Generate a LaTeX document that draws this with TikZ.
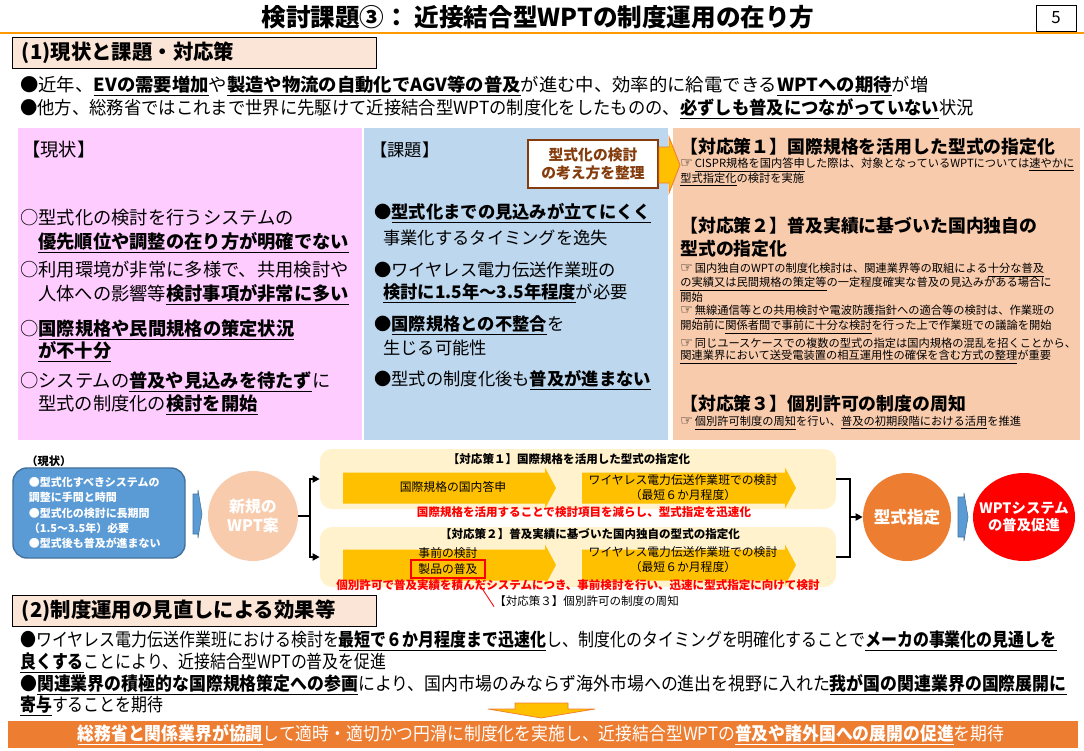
\documentclass[tikz,border=0pt]{standalone}
\usepackage{fontspec}
\setmainfont{Noto Sans CJK JP}
\newfontfamily\symfont{DejaVu Sans}
\usepackage{graphicx}
\usetikzlibrary{positioning}
\usetikzlibrary{shapes.geometric}
\usetikzlibrary{arrows.meta}

\definecolor{lineorange}{RGB}{255,153,0}
\definecolor{hdrfill}{RGB}{251,229,214}
\definecolor{nowpink}{RGB}{255,204,255}
\definecolor{issueblue}{RGB}{189,215,238}
\definecolor{solpeach}{RGB}{248,203,173}
\definecolor{kbrown}{RGB}{132,60,12}
\definecolor{gold}{RGB}{255,192,0}
\definecolor{lanefill}{RGB}{255,242,204}
\definecolor{boxblue}{RGB}{91,155,213}
\definecolor{boxblueline}{RGB}{65,113,156}
\definecolor{accent}{RGB}{237,125,49}

\def\fsz#1#2{\fontsize{#1}{#2}\selectfont}
\def\ubf#1{\underline{\textbf{#1}}}
\def\uln#1{\underline{#1}}
\def\hand{{\symfont\fontsize{10}{10}\selectfont ☞}\,}
\def\goldarr#1#2#3{\fill[gold] (#1,#3-15.5) -- (#2-11,#3-15.5) -- (#2-11,#3-20.5) -- (#2,#3) -- (#2-11,#3+20.5) -- (#2-11,#3+15.5) -- (#1,#3+15.5) -- cycle;}

\begin{document}
\begin{tikzpicture}[x=0.025cm, y=-0.025cm,
txt/.style={anchor=west, inner sep=0pt},
big/.style={txt, font=\fsz{12.8}{15}},
col/.style={txt, font=\fsz{13}{15}},
mid/.style={txt, font=\fsz{12.3}{14}},
head/.style={txt, font=\fsz{12.7}{15}\bfseries},
small/.style={txt, font=\fsz{8}{10}},
hdr/.style={draw, fill=hdrfill, line width=0.6pt, inner xsep=0.25cm, text width=8.6cm, minimum height=0.72cm, align=left, font=\fsz{14.5}{16}\bfseries},
lane/.style={fill=lanefill, rounded corners=0.3cm, minimum width=12.9cm, minimum height=1.5cm},
lanetitle/.style={inner sep=0pt, font=\fsz{8.2}{10}\bfseries},
flow/.style={inner sep=0pt, align=center, font=\fsz{8.4}{10.7}},
redtxt/.style={inner sep=0pt, text=red, font=\fsz{8.2}{10}\bfseries},
bubble/.style={circle, inner sep=0pt, text=white, align=center},
brk/.style={line width=2pt},
chev/.style={fill=boxblue, draw=boxblueline, line width=0.4pt}
]

\useasboundingbox (0,0) rectangle (1084,750);

% title
\node[font=\fsz{17.5}{20}\bfseries] (title) at (538,17) {検討課題③： 近接結合型WPTの制度運用の在り方};
\node[draw, line width=0.6pt, minimum width=1cm, minimum height=0.65cm, font=\fsz{12}{14}] (page) at (1056,18) {5};
\draw[lineorange, line width=2pt] (0,33) -- (1084,33);

% (1)
\node[hdr] (sec1) at (194,53) {(1)現状と課題・対応策};
\node[big] (top1) at (20,86) {\resizebox{646pt}{\height}{●近年、\ubf{EVの需要増加}や\ubf{製造や物流の自動化でAGV等の普及}が進む中、効率的に給電できる\ubf{WPTへの期待}が増}};
\node[big] (top2) at (20,109) {\resizebox{678pt}{\height}{●他方、総務省ではこれまで世界に先駆けて近接結合型WPTの制度化をしたものの、\ubf{必ずしも普及につながっていない}状況}};

% panels
\fill[nowpink] (18,128) rectangle (362,440);
\fill[issueblue] (364,128) rectangle (668,440);
\fill[solpeach] (673,128) rectangle (1080,440);

% now
\node[col] (now0) at (22,150) {【現状】};
\node[col] (now1) at (20,218) {○型式化の検討を行うシステムの};
\node[col] (now1b) at (38,243) {\ubf{優先順位や調整の在り方が明確でない}};
\node[col] (now2) at (20,270) {○利用環境が非常に多様で、共用検討や};
\node[col] (now2b) at (38,295) {人体への影響等\ubf{検討事項が非常に多い}};
\node[col] (now3) at (20,330) {○\ubf{国際規格や民間規格の策定状況}};
\node[col] (now3b) at (38,352) {\ubf{が不十分}};
\node[col] (now4) at (20,382) {○システムの\ubf{普及や見込みを待たず}に};
\node[col] (now4b) at (38,405) {型式の制度化の\ubf{検討を開始}};

% issues
\node[mid] (iss0) at (370,150) {【課題】};
\node[mid] (iss1) at (374,213) {●\ubf{型式化までの見込みが立てにくく}};
\node[mid] (iss1b) at (383,238) {事業化するタイミングを逸失};
\node[mid] (iss2) at (374,270) {●ワイヤレス電力伝送作業班の};
\node[mid] (iss2b) at (383,293) {\ubf{検討に1.5年～3.5年程度}が必要};
\node[mid] (iss3) at (374,325) {●\ubf{国際規格との不整合}を};
\node[mid] (iss3b) at (383,348) {生じる可能性};
\node[mid] (iss4) at (374,380) {●型式の制度化後も\ubf{普及が進まない}};
\node[draw=kbrown, line width=1.2pt, fill=white, minimum width=3.25cm, minimum height=1.2cm, align=center, text=kbrown, font=\fsz{10.5}{12.5}\bfseries] (idea) at (593,164) {型式化の検討\\の考え方を整理};
\filldraw[fill=gold, draw=accent, line width=0.6pt] (659,147) -- (669,147) -- (669,137) -- (680,165) -- (669,193) -- (669,183) -- (659,183) -- cycle;

% measures
\node[head] (sol1) at (680,147) {【対応策１】国際規格を活用した型式の指定化};
\node[small] (sol1a) at (680,165) {\hand\uln{CISPR規格を国内答申}した際は、対象となっているWPTについては\uln{速やかに}};
\node[small] (sol1b) at (680,180) {\uln{型式指定化}の検討を実施};
\node[head] (sol2) at (680,226) {【対応策２】普及実績に基づいた国内独自の};
\node[head] (sol2x) at (680,249) {型式の指定化};
\node[small] (sol2a) at (680,270) {\hand 国内独自のWPTの制度化検討は、関連業界等の取組による\uln{十分な普及}};
\node[small] (sol2b) at (680,284) {\uln{の実績又は民間規格の策定等}の一定程度確実な普及の見込みがある場合に};
\node[small] (sol2c) at (680,297) {開始};
\node[small] (sol2d) at (680,312) {\hand\uln{無線通信等との共用検討や電波防護指針への適合等}の検討は、作業班の};
\node[small] (sol2e) at (680,327) {開始前に\uln{関係者間で事前に十分な検討}を行った上で作業班での議論を開始};
\node[small] (sol2f) at (680,343) {\hand 同じユースケースでの複数の型式の指定は国内規格の混乱を招くことから、};
\node[small] (sol2g) at (680,357) {\uln{関連業界において送受電装置の相互運用性の確保を含む方式の整理}が重要};
\node[head] (sol3) at (680,404) {【対応策３】個別許可の制度の周知};
\node[small] (sol3a) at (680,423) {\hand\uln{個別許可制度の周知}を行い、\uln{普及の初期段階における活用}を推進};

% flow
\node[txt, font=\fsz{8}{10}\bfseries] (nowlbl) at (26,461) {（現状）};
\node[fill=boxblue, draw=boxblueline, line width=1pt, rounded corners=0.35cm, minimum width=4.3cm, minimum height=2.25cm, text width=3.5cm, align=left, text=white, font=\fsz{7.8}{10.8}\bfseries] (nowbox) at (99,513) {●型式化すべきシステムの\\調整に手間と時間\\●型式化の検討に長期間\\（1.5～3.5年）必要\\●型式後も普及が進まない};
\filldraw[chev] (193,494) -- (198,494) -- (198,490) -- (202,514) -- (198,538) -- (198,534) -- (193,534) -- cycle;
\node[bubble, fill=solpeach, minimum size=2.25cm, font=\fsz{11.3}{13.5}\bfseries] (newwpt) at (253,516) {新規の\\WPT案};

\node[lane] (lane1) at (578,479) {};
\node[lane] (lane2) at (578,557) {};
\goldarr{343}{556}{488}
\goldarr{582}{796}{488}
\goldarr{343}{556}{565}
\goldarr{582}{796}{565}

\node[lanetitle] (lt1) at (569,459) {【対応策１】国際規格を活用した型式の指定化};
\node[lanetitle] (lt2) at (590,534) {【対応策２】普及実績に基づいた国内独自の型式の指定化};
\node[flow] (a11) at (453,487) {国際規格の国内答申};
\node[flow] (a12) at (683,488) {ワイヤレス電力伝送作業班での検討\\（最短６か月程度）};
\node[flow] (a21) at (448,553) {事前の検討};
\node[flow, draw=red, line width=1pt, minimum width=1.85cm, minimum height=0.45cm] (prod) at (448,569) {製品の普及};
\node[flow] (a22) at (683,560) {ワイヤレス電力伝送作業班での検討\\（最短６か月程度）};
\node[redtxt] (r1) at (584,512) {国際規格を活用することで検討項目を減らし、型式指定を迅速化};
\node[redtxt] (r2) at (578,585) {個別許可で普及実績を積んだシステムにつき、事前検討を行い、迅速に型式指定に向けて検討};
\node[txt, font=\fsz{8.2}{10}] (m3) at (494,601) {【対応策３】個別許可の制度の周知};
\draw[red, line width=0.6pt] ([xshift=-0.25cm]prod.south east) -- (m3.south west);

\coordinate (j1) at (310,516);
\draw[brk] (newwpt) -- (j1);
\draw[brk, -{Triangle[length=5pt, width=5pt]}] (j1) |- (lane1.west);
\draw[brk, -{Triangle[length=5pt, width=5pt]}] (j1) |- (lane2.west);

\node[bubble, fill=accent, minimum size=2.2cm, font=\fsz{11.8}{14}\bfseries] (shitei) at (907,517) {型式指定};
\coordinate (j2) at (850,517);
\draw[brk] (lane1.east) -| (j2) |- (lane2.east);
\draw[brk, -{Triangle[length=5pt, width=5pt]}] (j2) -- (shitei);
\filldraw[chev] (958,497) -- (964,497) -- (964,493) -- (968,517) -- (964,541) -- (964,537) -- (958,537) -- cycle;
\node[ellipse, fill=red, inner sep=0pt, minimum width=2.55cm, minimum height=2.2cm] (goal) at (1024,517) {};
\node[text=white, align=center, inner sep=0pt, font=\fsz{10.2}{12.3}\bfseries] (goaltxt) at (goal) {WPTシステム\\の普及促進};

% (2)
\node[hdr, minimum height=0.7cm] (sec2) at (194,611) {(2)制度運用の見直しによる効果等};
\node[col] (eff1) at (20,641) {\resizebox{737pt}{\height}{●ワイヤレス電力伝送作業班における検討を\ubf{最短で６か月程度まで迅速化}し、制度化のタイミングを明確化することで\ubf{メーカの事業化の見通しを}}};
\node[col] (eff1b) at (20,663) {\scalebox{0.87}[1]{\ubf{良くする}ことにより、近接結合型WPTの普及を促進}};
\node[col] (eff2) at (20,685) {\resizebox{744pt}{\height}{●\ubf{関連業界の積極的な国際規格策定への参画}により、国内市場のみならず海外市場への進出を視野に入れた\ubf{我が国の関連業界の国際展開に}}};
\node[col] (eff2b) at (20,706) {\scalebox{0.87}[1]{\ubf{寄与}することを期待}};

% conclusion
\filldraw[fill=gold, draw=accent, line width=0.5pt] (515,703) -- (568,703) -- (568,709) -- (595,709) -- (541,718) -- (488,709) -- (515,709) -- cycle;
\fill[accent] (8,721) rectangle (1078,748);
\node[inner sep=0pt, text=white, font=\fsz{13}{15}] (concl) at (541,735) {\resizebox{659pt}{\height}{\ubf{総務省と関係業界が協調}して適時・適切かつ円滑に制度化を実施し、近接結合型WPTの\ubf{普及や諸外国への展開の促進}を期待}};

\end{tikzpicture}
\end{document}
